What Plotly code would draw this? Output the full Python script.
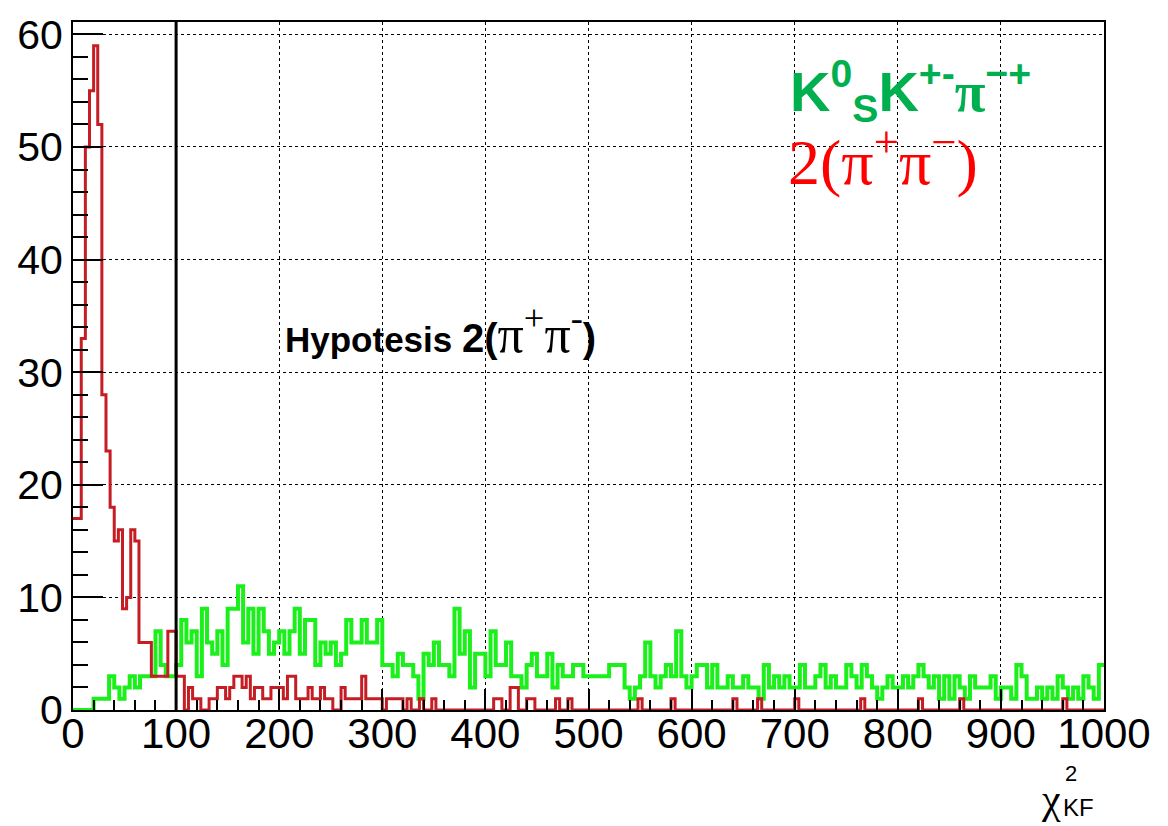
import numpy as np
import plotly.graph_objects as go

# ---------------- data ----------------
X_MIN, X_MAX = 0, 1000
Y_MAX = 61.1
CUT_VALUE = 100  # chi2 cut drawn as vertical line

# K0S K+- pi-+ hypothesis (green), 5-unit bins, 0..1000
GREEN_BIN_WIDTH = 5
GREEN_COUNTS = [
    0, 0, 0, 0, 1, 1, 1, 3, 2, 1, 2, 3, 2, 3, 3, 3, 7, 4, 3, 3,
    4, 8, 6, 7, 3, 9, 6, 5, 7, 4, 9, 9, 11, 6, 9, 5, 9, 7, 5, 6,
    7, 5, 7, 9, 5, 8, 8, 4, 6, 5, 6, 4, 5, 8, 6, 6, 8, 6, 6, 8,
    4, 4, 3, 5, 4, 4, 3, 1, 5, 4, 6, 4, 4, 3, 9, 5, 7, 2, 5, 5,
    3, 7, 4, 4, 6, 3, 3, 2, 4, 5, 3, 3, 5, 2, 4, 3, 3, 4, 4, 3,
    3, 3, 3, 3, 4, 4, 4, 2, 1, 2, 3, 6, 3, 2, 3, 4, 3, 7, 3, 2,
    3, 4, 4, 2, 4, 2, 2, 3, 2, 2, 3, 2, 2, 1, 4, 2, 3, 2, 3, 2,
    2, 4, 2, 2, 3, 4, 2, 3, 2, 2, 4, 3, 2, 4, 3, 2, 1, 2, 3, 2,
    2, 3, 2, 3, 4, 3, 2, 3, 1, 3, 1, 3, 2, 1, 3, 2, 2, 2, 3, 1,
    2, 2, 1, 4, 3, 1, 1, 2, 1, 2, 1, 3, 2, 1, 2, 1, 3, 2, 1, 4,
]

# 2(pi+ pi-) hypothesis (red), 4-unit bins, 0..1000
RED_BIN_WIDTH = 4
RED_COUNTS = [
    17, 17, 33, 50, 55, 59, 52, 28, 23, 18, 15, 16, 9, 10, 16, 15, 6, 6, 6, 3, 3, 3, 3, 7, 7,
    3, 3, 0, 2, 1, 1, 0, 0, 1, 1, 2, 2, 1, 2, 3, 3, 2, 3, 1, 2, 2, 1, 1, 2, 2,
    2, 1, 3, 3, 1, 1, 1, 2, 1, 1, 2, 1, 1, 0, 0, 2, 1, 1, 1, 1, 3, 1, 1, 1, 1,
    0, 1, 1, 1, 1, 0, 1, 0, 0, 1, 0, 0, 1, 0, 0, 0, 0, 0, 0, 0, 0, 0, 0, 0, 0,
    0, 0, 1, 1, 0, 0, 2, 2, 0, 0, 1, 1, 0, 0, 0, 0, 0, 1, 0, 0, 1, 0, 0, 0, 0,
    0, 0, 0, 0, 0, 0, 0, 0, 0, 0, 0, 0, 1, 0, 0, 0, 0, 0, 0, 0, 1, 0, 0, 0, 0,
    0, 0, 0, 0, 0, 0, 0, 0, 0, 0, 1, 0, 0, 0, 0, 0, 1, 0, 0, 0, 0, 0, 0, 0, 0,
    1, 0, 0, 0, 0, 0, 0, 0, 0, 0, 0, 0, 0, 0, 0, 0, 1, 0, 0, 0, 0, 0, 0, 0, 0,
    0, 0, 0, 0, 0, 1, 0, 0, 0, 0, 0, 0, 0, 0, 0, 1, 0, 0, 0, 0, 0, 0, 0, 0, 0,
    0, 0, 0, 0, 0, 0, 0, 0, 0, 0, 0, 0, 0, 0, 0, 1, 0, 0, 0, 0, 0, 0, 0, 0, 0,
]

X_TICKS = list(range(0, 1001, 100))
Y_TICKS = list(range(0, 61, 10))

LABEL_KKPI = ("<b>K<sup>0</sup><sub>S</sub>K<sup>+-</sup>"
              "<span style='font-family:Liberation Serif'>π</span><sup>−+</sup></b>")
LABEL_4PI = "2(π<sup>+</sup>π<sup>−</sup>)"
LABEL_HYP = ("<b>Hypotesis <span style='font-size:40px'>2(</span></b>"
             "<span style='font-family:Liberation Serif;font-size:52px'>π<sup>+</sup>π<sup>-</sup></span>"
             "<b><span style='font-size:40px'>)</span></b>")

GREEN = "#1cf01c"
RED = "#c41e24"


def step_xy(counts, width):
    counts = np.asarray(counts, dtype=float)
    edges = X_MIN + width * np.arange(len(counts) + 1)
    y = np.append(counts, counts[-1])
    return edges, y


fig = go.Figure()

gx, gy = step_xy(GREEN_COUNTS, GREEN_BIN_WIDTH)
fig.add_trace(go.Scatter(x=gx, y=gy, mode="lines", line=dict(shape="hv", color=GREEN, width=4),
                         hoverinfo="skip", showlegend=False))

rx, ry = step_xy(RED_COUNTS, RED_BIN_WIDTH)
fig.add_trace(go.Scatter(x=rx, y=ry, mode="lines", line=dict(shape="hv", color=RED, width=3),
                         hoverinfo="skip", showlegend=False))

# vertical cut line
fig.add_trace(go.Scatter(x=[CUT_VALUE, CUT_VALUE], y=[0, Y_MAX], mode="lines",
                         line=dict(color="black", width=3), hoverinfo="skip", showlegend=False))

fig.update_xaxes(range=[X_MIN, X_MAX], tickvals=X_TICKS, ticktext=[str(v) for v in X_TICKS],
                 showgrid=True, gridcolor="black", griddash="dot", gridwidth=1,
                 showline=True, linecolor="black", linewidth=2, mirror=True,
                 ticks="inside", ticklen=21, tickwidth=2, tickcolor="black",
                 minor=dict(dtick=20, ticks="inside", ticklen=10, tickwidth=2, tickcolor="black", showgrid=False),
                 tickfont=dict(family="Liberation Sans, Arial, sans-serif", size=42, color="black"),
                 ticklabelstandoff=-14, zeroline=False)
fig.update_yaxes(range=[0, Y_MAX], tickvals=Y_TICKS, ticktext=[str(v) for v in Y_TICKS],
                 showgrid=True, gridcolor="black", griddash="dot", gridwidth=1,
                 showline=True, linecolor="black", linewidth=2, mirror=True,
                 ticks="inside", ticklen=30, tickwidth=2, tickcolor="black",
                 minor=dict(dtick=2, ticks="inside", ticklen=15, tickwidth=2, tickcolor="black", showgrid=False),
                 tickfont=dict(family="Liberation Sans, Arial, sans-serif", size=41, color="black"),
                 zeroline=False)

L, R, T, B = 73, 64, 18, 116
W, H = 1168, 826

annotations = [
    dict(text=LABEL_HYP, x=0.2037, y=0.552, xref="paper", yref="paper", xanchor="left", yanchor="middle",
         showarrow=False, font=dict(family="Liberation Sans, Arial, sans-serif", size=35, color="black")),
    dict(text=LABEL_KKPI, x=0.6935, y=0.90, xref="paper", yref="paper", xanchor="left", yanchor="middle",
         showarrow=False, font=dict(family="Liberation Sans, Arial, sans-serif", size=56, color="#00b04f")),
    dict(text=LABEL_4PI, x=0.6915, y=0.803, xref="paper", yref="paper", xanchor="left", yanchor="middle",
         showarrow=False, font=dict(family="Liberation Serif, Times New Roman, serif", size=64, color="#ff0000")),
    dict(text="χ", x=0.9486, y=-0.130, xref="paper", yref="paper", xanchor="center", yanchor="middle",
         showarrow=False, font=dict(family="Liberation Serif, serif", size=42, color="black")),
    dict(text="2", x=0.968, y=-0.093, xref="paper", yref="paper", xanchor="center", yanchor="middle",
         showarrow=False, font=dict(family="Liberation Sans, Arial, sans-serif", size=22, color="black")),
    dict(text="KF", x=0.975, y=-0.141, xref="paper", yref="paper", xanchor="center", yanchor="middle",
         showarrow=False, font=dict(family="Liberation Sans, Arial, sans-serif", size=24, color="black")),
]

fig.update_layout(width=W, height=H, margin=dict(l=L, r=R, t=T, b=B),
                  paper_bgcolor="white", plot_bgcolor="white",
                  annotations=annotations, showlegend=False)

fig.write_html("out.html")
